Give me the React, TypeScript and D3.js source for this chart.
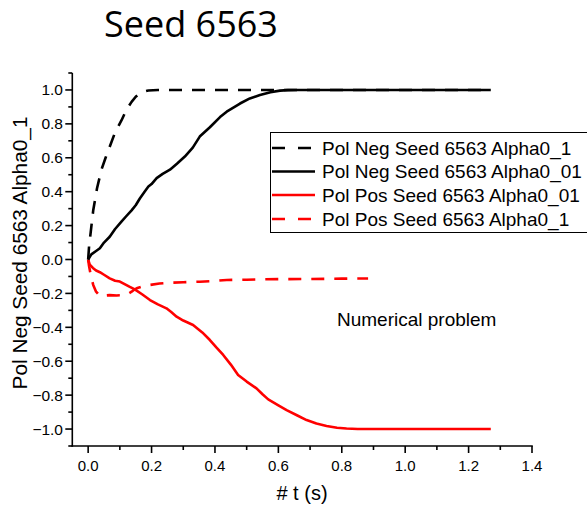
import React, { useEffect, useRef } from "react";
import * as d3 from "d3";

const negA01T = [0, 0.003, 0.008, 0.016, 0.028, 0.042, 0.055, 0.068, 0.085, 0.105, 0.12, 0.137, 0.15, 0.163, 0.175, 0.19, 0.22, 0.3, 0.5, 0.8, 1.0, 1.27];
const negA01Y = [0, 0.08, 0.16, 0.29, 0.42, 0.53, 0.6, 0.665, 0.75, 0.82, 0.88, 0.93, 0.96, 0.98, 0.99, 0.997, 1.0, 1.0, 1.0, 1.0, 1.0, 1.0];

const negA001T = [0, 0.01, 0.025, 0.037, 0.05, 0.068, 0.085, 0.105, 0.12, 0.137, 0.15, 0.163, 0.178, 0.19, 0.2, 0.216, 0.235, 0.258, 0.28, 0.305, 0.33, 0.352, 0.384, 0.416, 0.437, 0.479, 0.51, 0.542, 0.575, 0.605, 0.63, 0.66, 0.7, 0.8, 1.0, 1.27];
const negA001Y = [0, 0.03, 0.05, 0.066, 0.1, 0.134, 0.18, 0.223, 0.255, 0.29, 0.32, 0.36, 0.4, 0.43, 0.445, 0.48, 0.505, 0.53, 0.565, 0.607, 0.66, 0.725, 0.78, 0.84, 0.872, 0.92, 0.95, 0.97, 0.986, 0.996, 0.999, 1.0, 1.0, 1.0, 1.0, 1.0];

const posA001T = [0, 0.005, 0.015, 0.025, 0.037, 0.05, 0.068, 0.085, 0.1, 0.115, 0.13, 0.147, 0.17, 0.195, 0.22, 0.247, 0.262, 0.279, 0.3, 0.331, 0.36, 0.384, 0.405, 0.426, 0.45, 0.473, 0.5, 0.531, 0.55, 0.568, 0.6, 0.626, 0.66, 0.689, 0.72, 0.752, 0.785, 0.815, 0.85, 0.9, 1.0, 1.27];
const posA001Y = [0, -0.03, -0.05, -0.065, -0.075, -0.09, -0.111, -0.125, -0.13, -0.145, -0.16, -0.176, -0.205, -0.239, -0.265, -0.288, -0.31, -0.337, -0.36, -0.386, -0.43, -0.475, -0.52, -0.563, -0.62, -0.681, -0.72, -0.76, -0.795, -0.825, -0.86, -0.888, -0.92, -0.947, -0.967, -0.982, -0.992, -0.997, -1.0, -1.0, -1.0, -1.0];

const posA01T = [0, 0.003, 0.008, 0.016, 0.025, 0.037, 0.05, 0.068, 0.09, 0.116, 0.128, 0.137, 0.145, 0.153, 0.17, 0.195, 0.225, 0.258, 0.3, 0.352, 0.4, 0.437, 0.5, 0.542, 0.6, 0.7, 0.8, 0.883];
const posA01Y = [0, -0.04, -0.09, -0.15, -0.19, -0.215, -0.213, -0.21, -0.212, -0.21, -0.2, -0.19, -0.178, -0.17, -0.16, -0.15, -0.142, -0.137, -0.134, -0.131, -0.126, -0.121, -0.119, -0.117, -0.116, -0.115, -0.113, -0.112];

const xMajorTicks = [0, 0.2, 0.4, 0.6, 0.8, 1.0, 1.2, 1.4];
const xMinorTicks = [0.1, 0.3, 0.5, 0.7, 0.9, 1.1, 1.3];
const yMajorTicks = [-1.0, -0.8, -0.6, -0.4, -0.2, 0, 0.2, 0.4, 0.6, 0.8, 1.0];
const yMinorTicks = [-1.1, -0.9, -0.7, -0.5, -0.3, -0.1, 0.1, 0.3, 0.5, 0.7, 0.9, 1.1];

const seriesNames = [
  "Pol Neg Seed 6563 Alpha0_1",
  "Pol Neg Seed 6563 Alpha0_01",
  "Pol Pos Seed 6563 Alpha0_01",
  "Pol Pos Seed 6563 Alpha0_1",
];
const titleText = "Seed 6563";
const xTitle = "# t (s)";
const yTitle = "Pol Neg Seed 6563 Alpha0_1";
const noteText = "Numerical problem";

export default function App() {
  const ref = useRef<SVGSVGElement>(null);

  useEffect(() => {
    const svg = d3.select(ref.current);
    svg.selectAll("*").remove();
    const font = "'Liberation Sans', Arial, sans-serif";

    const x = d3.scaleLinear().domain([-0.05, 1.4]).range([72.3, 532]);
    const y = d3.scaleLinear().domain([-1.1, 1.1]).range([446, 73]);

    const series = [
      { t: negA01T, v: negA01Y, color: "#000000", dash: "13 10" },
      { t: negA001T, v: negA001Y, color: "#000000", dash: null },
      { t: posA001T, v: posA001Y, color: "#ff0000", dash: null },
      { t: posA01T, v: posA01Y, color: "#ff0000", dash: "13 10" },
    ];

    const line = d3
      .line<[number, number]>()
      .x((d) => x(d[0]))
      .y((d) => y(d[1]));

    const g = svg.append("g");
    [2, 3, 1, 0].forEach((i) => {
      const s = series[i];
      const pts: [number, number][] = s.t.map((t, k) => [t, s.v[k]]);
      const p = g
        .append("path")
        .attr("d", line(pts))
        .attr("fill", "none")
        .attr("stroke", s.color)
        .attr("stroke-width", 2.6)
        .attr("stroke-linejoin", "round");
      if (s.dash) p.attr("stroke-dasharray", s.dash);
    });

    const yAxisX = 72.3;
    const xAxisY = 446;
    const ax = svg.append("g").attr("stroke", "#000").attr("stroke-width", 1.6);
    ax.append("line").attr("x1", yAxisX).attr("x2", yAxisX).attr("y1", y(1.1)).attr("y2", xAxisY + 0.8);
    ax.append("line").attr("x1", yAxisX - 0.8).attr("x2", x(1.4) + 0.8).attr("y1", xAxisY).attr("y2", xAxisY);

    xMajorTicks.forEach((t) => {
      ax.append("line").attr("x1", x(t)).attr("x2", x(t)).attr("y1", xAxisY).attr("y2", xAxisY + 7);
    });
    xMinorTicks.forEach((t) => {
      ax.append("line").attr("x1", x(t)).attr("x2", x(t)).attr("y1", xAxisY).attr("y2", xAxisY + 4);
    });
    yMajorTicks.forEach((v) => {
      ax.append("line").attr("x1", yAxisX - 7).attr("x2", yAxisX).attr("y1", y(v)).attr("y2", y(v));
    });
    yMinorTicks.forEach((v) => {
      ax.append("line").attr("x1", yAxisX - 4).attr("x2", yAxisX).attr("y1", y(v)).attr("y2", y(v));
    });

    const fmt = d3.format(".1f");
    svg
      .append("g")
      .selectAll("text")
      .data(xMajorTicks)
      .join("text")
      .attr("x", (d) => x(d))
      .attr("y", 471)
      .attr("text-anchor", "middle")
      .attr("font-family", font)
      .attr("font-size", 15)
      .attr("fill", "#000")
      .text((d) => fmt(d));

    svg
      .append("g")
      .selectAll("text")
      .data(yMajorTicks)
      .join("text")
      .attr("x", 63)
      .attr("y", (d) => y(d) + 5.5)
      .attr("text-anchor", "end")
      .attr("font-family", font)
      .attr("font-size", 15.5)
      .attr("fill", "#000")
      .text((d) => fmt(d));

    svg
      .append("text")
      .attr("x", 302)
      .attr("y", 500)
      .attr("text-anchor", "middle")
      .attr("font-family", font)
      .attr("font-size", 20)
      .text(xTitle);

    svg
      .append("text")
      .attr("transform", "translate(27,253) rotate(-90)")
      .attr("text-anchor", "middle")
      .attr("font-family", font)
      .attr("font-size", 20.8)
      .text(yTitle);

    svg
      .append("text")
      .attr("x", 104)
      .attr("y", 37)
      .attr("font-family", "'Open Sans', sans-serif")
      .attr("font-size", 36)
      .text(titleText);

    svg
      .append("text")
      .attr("x", 337)
      .attr("y", 326)
      .attr("font-family", font)
      .attr("font-size", 19)
      .text(noteText);

    const lg = svg.append("g");
    lg.append("rect")
      .attr("x", 270.5)
      .attr("y", 132.5)
      .attr("width", 330)
      .attr("height", 100)
      .attr("fill", "#fff")
      .attr("stroke", "#000")
      .attr("stroke-width", 1);
    const rowY = [148, 171.5, 195, 219];
    series.forEach((s, i) => {
      const l = lg
        .append("line")
        .attr("x1", 272)
        .attr("x2", 315)
        .attr("y1", rowY[i])
        .attr("y2", rowY[i])
        .attr("stroke", s.color)
        .attr("stroke-width", 2.6);
      if (s.dash) l.attr("stroke-dasharray", "13 13");
      lg.append("text")
        .attr("x", 322)
        .attr("y", rowY[i] + 6.8)
        .attr("font-family", font)
        .attr("font-size", 19)
        .text(seriesNames[i]);
    });
  }, []);

  return (
    <svg
      ref={ref}
      width={587}
      height={510}
      style={{ position: "absolute", left: 0, top: 0, background: "#fff" }}
    />
  );
}
